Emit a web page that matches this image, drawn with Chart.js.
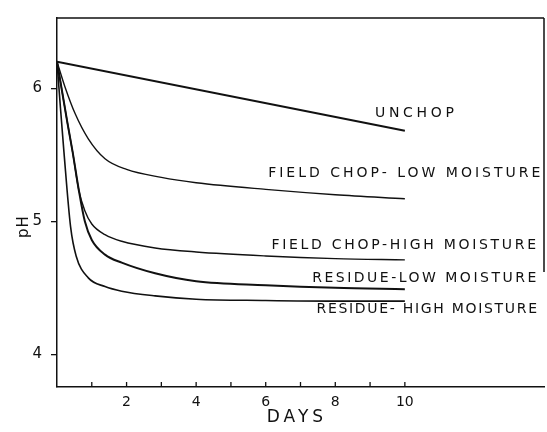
<!DOCTYPE html>
<html>
<head>
<meta charset="utf-8">
<script src="https://cdn.jsdelivr.net/npm/chart.js@4"></script>
<style>html,body{margin:0;padding:0;background:#fff;}</style>
</head>
<body>
<canvas id="chart" width="547" height="432"></canvas>
<script>
// values (days, pH)
const unchopDays = [0, 10];
const unchopPH = [6.2, 5.68];

const fcLowDays = [0, 0.23, 0.52, 0.9, 1.38, 2, 3, 4, 6, 8, 10];
const fcLowPH = [6.2, 6.01, 5.81, 5.62, 5.47, 5.39, 5.33, 5.29, 5.24, 5.2, 5.17];

const fcHighDays = [0, 0.15, 0.3, 0.45, 0.63, 0.8, 1.0, 1.38, 1.86, 2.82, 4, 6, 8, 10];
const fcHighPH = [6.2, 5.97, 5.74, 5.52, 5.23, 5.08, 4.98, 4.9, 4.85, 4.8, 4.77, 4.74, 4.72, 4.71];

const resLowDays = [0, 0.15, 0.3, 0.45, 0.63, 0.8, 1.0, 1.38, 1.86, 2.82, 4, 6, 8, 10];
const resLowPH = [6.2, 5.97, 5.74, 5.52, 5.23, 5.0, 4.86, 4.75, 4.69, 4.61, 4.55, 4.52, 4.5, 4.49];

const resHighDays = [0, 0.1, 0.2, 0.39, 0.55, 0.9, 1.38, 1.86, 2.82, 4, 6, 8, 10];
const resHighPH = [6.2, 5.85, 5.52, 4.96, 4.74, 4.575, 4.51, 4.475, 4.44, 4.415, 4.405, 4.4, 4.4];

const xTickValues = [1, 2, 3, 4, 5, 6, 7, 8, 9, 10];
const xTickLabels = ['', '2', '', '4', '', '6', '', '8', '', '10'];
const yTickValues = [4, 5, 6];

// curve labels, anchored in data units (day, pH)
const labelTexts = ['UNCHOP', 'FIELD CHOP- LOW MOISTURE', 'FIELD CHOP-HIGH MOISTURE', 'RESIDUE-LOW MOISTURE', 'RESIDUE- HIGH MOISTURE'];
const labelDays = [9.14, 13.98, 13.85, 13.85, 13.85];
const labelPH = [5.81, 5.36, 4.818, 4.573, 4.335];
const labelAlign = ['left', 'right', 'right', 'right', 'right'];
const labelSpacing = [3.7, 3.0, 2.7, 2.5, 1.7];

const toPoints = (xs, ys) => xs.map((x, i) => ({x: x, y: ys[i]}));

function line(data, width) {
    return {
        data: data,
        borderColor: '#111',
        borderWidth: width,
        pointRadius: 0,
        fill: false,
        cubicInterpolationMode: 'monotone'
    };
}

const extras = {
    id: 'extras',
    afterDraw(chart) {
        const ctx = chart.ctx;
        const a = chart.chartArea;
        const xs = chart.scales.x, ys = chart.scales.y;
        ctx.save();
        ctx.strokeStyle = '#111';
        ctx.lineWidth = 1.5;
        // frame top and part of right side
        ctx.beginPath();
        ctx.moveTo(a.left, a.top);
        ctx.lineTo(a.right, a.top);
        ctx.moveTo(a.right, a.top);
        ctx.lineTo(a.right, ys.getPixelForValue(4.62));
        ctx.stroke();
        // inward ticks on the day axis
        ctx.lineWidth = 1.3;
        ctx.beginPath();
        xTickValues.forEach(v => {
            const px = xs.getPixelForValue(v);
            ctx.moveTo(px, a.bottom);
            ctx.lineTo(px, a.bottom - 5);
        });
        ctx.stroke();
        // curve labels
        ctx.fillStyle = '#111';
        ctx.font = '14px "DejaVu Sans"';
        ctx.textBaseline = 'middle';
        labelTexts.forEach((t, i) => {
            ctx.letterSpacing = labelSpacing[i] + 'px';
            ctx.textAlign = labelAlign[i];
            ctx.fillText(t, xs.getPixelForValue(labelDays[i]), ys.getPixelForValue(labelPH[i]));
        });
        // axis titles
        ctx.font = '17px "DejaVu Sans"';
        ctx.letterSpacing = '4px';
        ctx.textAlign = 'center';
        ctx.fillText('DAYS', xs.getPixelForValue(6.84) + 2, a.bottom + 31);
        ctx.font = '15px "DejaVu Sans"';
        ctx.letterSpacing = '1px';
        ctx.translate(24, ys.getPixelForValue(4.96));
        ctx.rotate(-Math.PI / 2);
        ctx.fillText('pH', 0, 0);
        ctx.restore();
    }
};

var ctx = document.getElementById('chart').getContext('2d');

var chart = new Chart(ctx, {
    type: 'line',
    data: {
        datasets: [
            line(toPoints(unchopDays, unchopPH), 2),
            line(toPoints(fcLowDays, fcLowPH), 1.4),
            line(toPoints(fcHighDays, fcHighPH), 1.4),
            line(toPoints(resLowDays, resLowPH), 2),
            line(toPoints(resHighDays, resHighPH), 1.6)
        ]
    },
    options: {
        responsive: false,
        animation: false,
        layout: {padding: {top: 14, right: 3, left: 0, bottom: 0}},
        plugins: {legend: {display: false}, tooltip: {enabled: false}},
        scales: {
            x: {
                type: 'linear',
                min: 0,
                max: 14,
                afterFit: s => { s.height = 45; },
                afterBuildTicks: s => { s.ticks = xTickValues.map(v => ({value: v})); },
                grid: {display: true, drawOnChartArea: false, drawTicks: false},
                border: {display: true, color: '#111', width: 1.5},
                ticks: {
                    autoSkip: false,
                    maxRotation: 0,
                    padding: 7,
                    color: '#111',
                    font: {family: 'DejaVu Sans', size: 14},
                    callback: (v, i) => xTickLabels[i]
                }
            },
            y: {
                min: 3.755,
                max: 6.528,
                afterFit: s => { s.width = 57; },
                afterBuildTicks: s => { s.ticks = yTickValues.map(v => ({value: v})); },
                grid: {drawOnChartArea: false, drawTicks: true, tickLength: 6, color: '#111', lineWidth: 1.3},
                border: {display: true, color: '#111', width: 1.5},
                ticks: {
                    padding: 9,
                    color: '#111',
                    font: {family: 'DejaVu Sans', size: 15},
                    callback: v => String(v)
                }
            }
        }
    },
    plugins: [extras]
});
</script>
</body>
</html>
